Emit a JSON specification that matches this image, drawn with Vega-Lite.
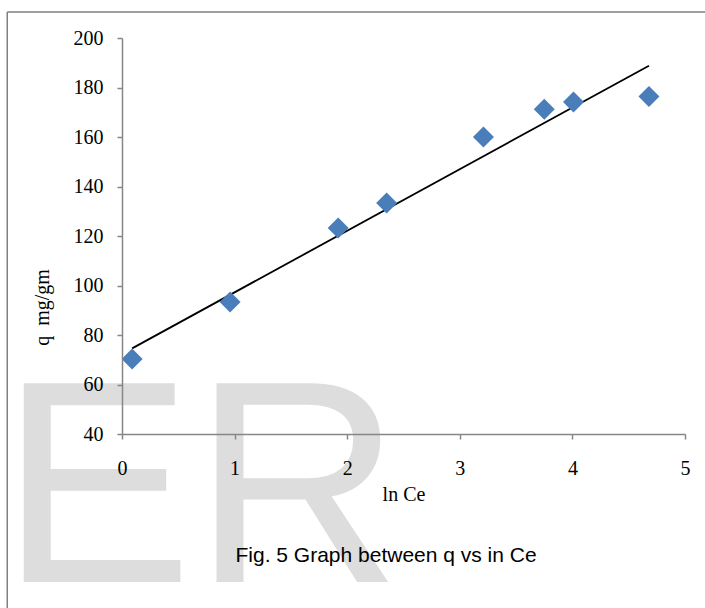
{
  "$schema": "https://vega.github.io/schema/vega-lite/v6.json",
  "width": 563,
  "height": 396,
  "autosize": {"type": "none"},
  "padding": {"left": 122, "top": 38, "right": 20, "bottom": 174},
  "background": "white",
  "config": {
    "view": {"stroke": null},
    "axis": {
      "zindex": 1,
      "grid": false,
      "domainColor": "#868686",
      "domainWidth": 1.5,
      "tickColor": "#868686",
      "tickWidth": 1.5,
      "tickSize": 5,
      "labelFont": "Liberation Serif",
      "labelFontSize": 20,
      "labelColor": "#000000",
      "titleFont": "Liberation Serif",
      "titleFontSize": 20,
      "titleFontWeight": "normal",
      "titleColor": "#000000"
    }
  },
  "datasets": {
    "points": [
      {"lnCe": 0.09, "q": 70.3},
      {"lnCe": 0.96, "q": 93.3},
      {"lnCe": 1.92, "q": 123.2},
      {"lnCe": 2.35, "q": 133.3},
      {"lnCe": 3.21, "q": 160.0},
      {"lnCe": 3.75, "q": 171.2},
      {"lnCe": 4.01, "q": 174.1},
      {"lnCe": 4.68, "q": 176.4}
    ],
    "trend": [
      {"lnCe": 0.09, "q": 74.6},
      {"lnCe": 4.68, "q": 188.8}
    ],
    "mark": [{"t": "ER", "caption": "Fig. 5 Graph between q vs in Ce"}]
  },
  "layer": [
    {
      "data": {"name": "mark"},
      "mark": {"type": "text", "font": "Liberation Sans", "fontSize": 289, "color": "#dddddd", "align": "left", "baseline": "alphabetic"},
      "encoding": {
        "x": {"datum": -1.083, "type": "quantitative", "scale": {"domain": [0, 5], "nice": false, "zero": false}},
        "y": {"datum": -19.8, "type": "quantitative", "scale": {"domain": [40, 200], "nice": false, "zero": false}},
        "text": {"field": "t"}
      }
    },
    {
      "data": {"name": "mark"},
      "mark": {"type": "rule", "color": "#7f7f7f", "strokeWidth": 1.5},
      "encoding": {
        "x": {"datum": -1.019, "type": "quantitative"},
        "y": {"datum": 210.5, "type": "quantitative"},
        "y2": {"datum": -35}
      }
    },
    {
      "data": {"name": "mark"},
      "mark": {"type": "rule", "color": "#7f7f7f", "strokeWidth": 1.5},
      "encoding": {
        "x": {"datum": -1.019, "type": "quantitative"},
        "x2": {"datum": 5.4},
        "y": {"datum": 210.5, "type": "quantitative"}
      }
    },
    {
      "data": {"name": "mark"},
      "mark": {"type": "text", "font": "Liberation Sans", "fontSize": 21, "color": "#000000", "align": "center", "baseline": "alphabetic"},
      "encoding": {
        "x": {"datum": 2.345, "type": "quantitative"},
        "y": {"datum": -11.7, "type": "quantitative"},
        "text": {"field": "caption"}
      }
    },
    {
      "data": {"name": "trend"},
      "mark": {"type": "line", "color": "#000000", "strokeWidth": 1.8},
      "encoding": {
        "x": {"field": "lnCe", "type": "quantitative"},
        "y": {"field": "q", "type": "quantitative"}
      }
    },
    {
      "data": {"name": "points"},
      "mark": {"type": "point", "shape": "diamond", "filled": true, "size": 440, "color": "#4a7ebb", "opacity": 1},
      "encoding": {
        "x": {"field": "lnCe", "type": "quantitative", "axis": {"title": "ln Ce", "zindex": 1, "format": "d", "values": [0, 1, 2, 3, 4, 5], "labelFlush": false, "labelPadding": 19, "titlePadding": 6, "labelFont": "Liberation Serif", "titleFont": "Liberation Serif"}},
        "y": {"field": "q", "type": "quantitative", "axis": {"title": "q\u00a0\u00a0mg/gm", "zindex": 1, "format": "d", "values": [40, 60, 80, 100, 120, 140, 160, 180, 200], "labelFlush": false, "labelPadding": 14, "titleX": -70, "titleY": 269, "labelFont": "Liberation Serif", "titleFont": "Liberation Serif"}}
      }
    }
  ]
}
